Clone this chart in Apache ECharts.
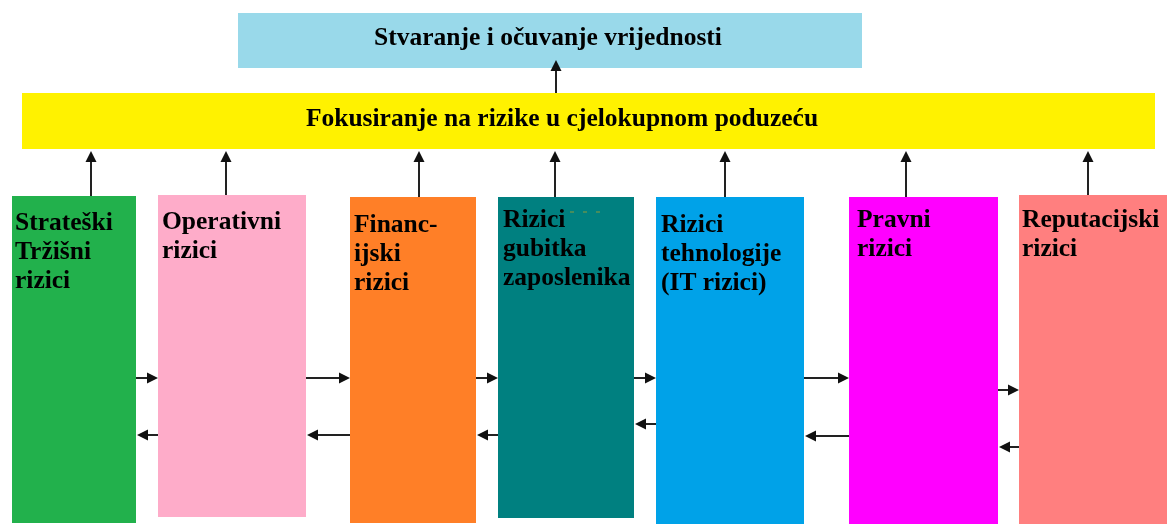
<!DOCTYPE html>
<html>
<head>
<meta charset="utf-8">
<title>Rizici u poduzeću</title>
<script src="https://cdn.jsdelivr.net/npm/echarts@6/dist/echarts.min.js"></script>
<style>
    html, body { margin: 0; padding: 0; background: #fff; }
    #main { width: 1171px; height: 525px; }
</style>
</head>
<body>
<div id="main"></div>
<script>
// gornji blokovi (cilj i fokus)
var headerLabels = ['Stvaranje i očuvanje vrijednosti', 'Fokusiranje na rizike u cjelokupnom poduzeću'];
var headerLeft = [238, 22];
var headerRight = [862, 1155];
var headerTop = [13, 93];
var headerBottom = [68, 149];
var headerTextX = [548, 562];

// vrste rizika (donji red)
var riskLabels = [
    'Strateški\nTržišni\nrizici',
    'Operativni\nrizici',
    'Financ-\nijski\nrizici',
    'Rizici\ngubitka\nzaposlenika',
    'Rizici\ntehnologije\n(IT rizici)',
    'Pravni\nrizici',
    'Reputacijski\nrizici'
];
var riskLeft = [12, 158, 350, 498, 656, 849, 1019];
var riskRight = [136, 306, 476, 634, 804, 998, 1167];
var riskTop = [196, 195, 197, 197, 197, 197, 195];
var riskBottom = [523, 517, 523, 518, 524, 524, 524];

// strelice prema gore (x), te veze izmedju susjednih rizika (y)
var upArrowX = [91, 226, 419, 555, 725, 906, 1088];
var forwardY = [378, 378, 378, 378, 378, 390];
var backwardY = [435, 435, 435, 424, 436, 447];

// boje / stil
var headerColors = ['#99D9EA', '#FFF200'];
var riskColors = ['#22B14C', '#FEACC9', '#FF7F27', '#008080', '#00A2E8', '#FF00FF', '#FF7F7F'];
var riskTextDx = [3, 4, 4, 5, 5, 8, 3];
var riskTextDy = [13, 13, 14, 9, 14, 9, 11];
var FONT = 'bold 25.5px "Liberation Serif", "Times New Roman", serif';

var chart = echarts.init(document.getElementById('main'));

function rectFrom(api, x0, y0, x1, y1) {
    var p0 = api.coord([x0, y0]);
    var p1 = api.coord([x1, y1]);
    return { x: p0[0], y: p0[1], width: p1[0] - p0[0], height: p1[1] - p0[1] };
}

// podaci za strelice: [x1, y1, x2, y2]
var arrowData = [];
for (var i = 0; i < upArrowX.length; i++) {
    arrowData.push([upArrowX[i], riskTop[i], upArrowX[i], headerBottom[1] + 2]);
}
arrowData.push([556, headerTop[1], 556, headerBottom[0] - 8]);
for (var j = 0; j < forwardY.length; j++) {
    arrowData.push([riskRight[j], forwardY[j], riskLeft[j + 1], forwardY[j]]);
    arrowData.push([riskLeft[j + 1], backwardY[j], riskRight[j] + 1, backwardY[j]]);
}

var option = {
    animation: false,
    grid: { left: 0, right: 0, top: 0, bottom: 0 },
    xAxis: { type: 'value', min: 0, max: 1171, show: false },
    yAxis: { type: 'value', min: 0, max: 525, inverse: true, show: false },
    series: [
        {
            // gornji blokovi
            type: 'custom',
            data: headerLabels.map(function (t, k) {
                return [headerLeft[k], headerTop[k], headerRight[k], headerBottom[k]];
            }),
            renderItem: function (params, api) {
                var k = params.dataIndex;
                var r = rectFrom(api, api.value(0), api.value(1), api.value(2), api.value(3));
                var c = api.coord([headerTextX[k], (api.value(1) + api.value(3)) / 2]);
                return {
                    type: 'group',
                    children: [
                        { type: 'rect', shape: r, style: { fill: headerColors[k] } },
                        {
                            type: 'text',
                            style: {
                                text: headerLabels[k], x: c[0], y: c[1] - 2,
                                font: FONT, fill: '#000',
                                textAlign: 'center', textVerticalAlign: 'middle'
                            }
                        }
                    ]
                };
            }
        },
        {
            // vrste rizika
            type: 'custom',
            data: riskLabels.map(function (t, k) {
                return [riskLeft[k], riskTop[k], riskRight[k], riskBottom[k]];
            }),
            renderItem: function (params, api) {
                var k = params.dataIndex;
                var r = rectFrom(api, api.value(0), api.value(1), api.value(2), api.value(3));
                return {
                    type: 'group',
                    children: [
                        { type: 'rect', shape: r, style: { fill: riskColors[k] } },
                        {
                            type: 'text',
                            style: {
                                text: riskLabels[k],
                                x: r.x + riskTextDx[k], y: r.y + riskTextDy[k],
                                font: FONT, fill: '#000', lineHeight: 29,
                                textAlign: 'left', textVerticalAlign: 'top'
                            }
                        }
                    ]
                };
            }
        },
        {
            // strelice
            type: 'custom',
            data: arrowData,
            z: 5,
            renderItem: function (params, api) {
                var a = api.coord([api.value(0), api.value(1)]);
                var b = api.coord([api.value(2), api.value(3)]);
                var dx = b[0] - a[0], dy = b[1] - a[1];
                var len = Math.sqrt(dx * dx + dy * dy);
                var ux = dx / len, uy = dy / len;
                var hl = 11, hw = 5.5;
                var bx = b[0] - ux * hl, by = b[1] - uy * hl;
                return {
                    type: 'group',
                    children: [
                        {
                            type: 'line',
                            shape: { x1: a[0], y1: a[1], x2: bx + ux * 2, y2: by + uy * 2 },
                            style: { stroke: '#222', lineWidth: 2 }
                        },
                        {
                            type: 'polygon',
                            shape: {
                                points: [
                                    [b[0], b[1]],
                                    [bx - uy * hw, by + ux * hw],
                                    [bx + uy * hw, by - ux * hw]
                                ]
                            },
                            style: { fill: '#111' }
                        }
                    ]
                };
            }
        },
        {
            // sitne crtice u tirkiznom bloku
            type: 'custom',
            data: [[570, 212, 604, 212]],
            z: 6,
            renderItem: function (params, api) {
                var a = api.coord([api.value(0), api.value(1)]);
                var b = api.coord([api.value(2), api.value(3)]);
                return {
                    type: 'line',
                    shape: { x1: a[0], y1: a[1], x2: b[0], y2: b[1] },
                    style: { stroke: '#8E9A3A', lineWidth: 1, lineDash: [4, 9] }
                };
            }
        }
    ]
};

chart.setOption(option);
</script>
</body>
</html>
